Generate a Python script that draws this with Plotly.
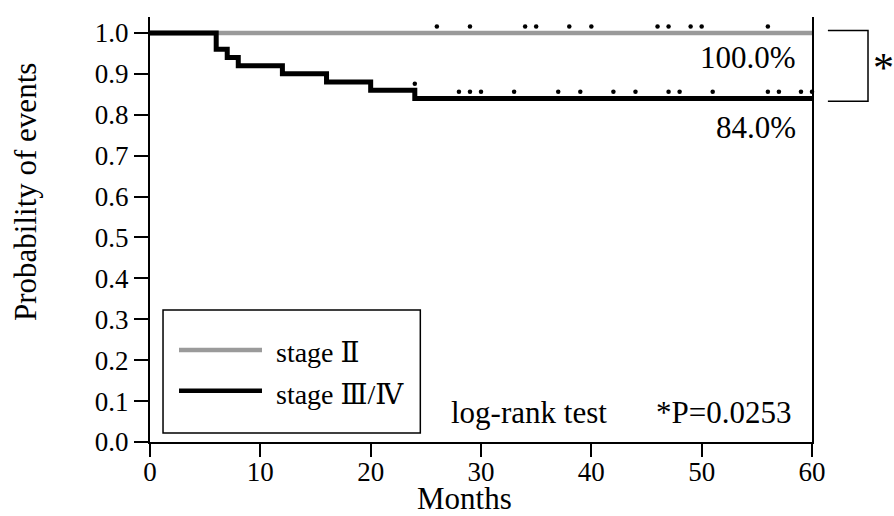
import plotly.graph_objects as go

# ---- data ----
months_stage34 = [0, 6, 7, 8, 12, 16, 20, 24, 60]
surv_stage34 = [1.00, 0.96, 0.94, 0.92, 0.90, 0.88, 0.86, 0.84, 0.84]
months_stage2 = [0, 60]
surv_stage2 = [1.00, 1.00]

censor_stage2 = [26, 29, 34, 35, 38, 40, 46, 47, 49, 50, 56]
censor_stage34 = [24, 28, 29, 30, 33, 37, 39, 42, 44, 47, 48, 51, 56, 57, 59, 60]

x_ticks = [0, 10, 20, 30, 40, 50, 60]
y_ticks = [0.0, 0.1, 0.2, 0.3, 0.4, 0.5, 0.6, 0.7, 0.8, 0.9, 1.0]

FONT = "Liberation Serif, Times New Roman, DejaVu Serif, serif"
GRAY = "#9a9a9a"


def surv_at(t, xs, ys):
    val = ys[0]
    for xx, yy in zip(xs, ys):
        if xx < t:
            val = yy
    return val


dot_off = 0.016
c2_y = [surv_at(t, months_stage2, surv_stage2) + dot_off for t in censor_stage2]
c34_y = [surv_at(t, months_stage34, surv_stage34) + dot_off for t in censor_stage34]

fig = go.Figure()
fig.add_trace(go.Scatter(x=months_stage2, y=surv_stage2, mode="lines",
                         line=dict(color=GRAY, width=4.5, shape="hv"),
                         showlegend=False, cliponaxis=False))
fig.add_trace(go.Scatter(x=months_stage34, y=surv_stage34, mode="lines",
                         line=dict(color="black", width=5, shape="hv"),
                         showlegend=False, cliponaxis=False))
fig.add_trace(go.Scatter(x=censor_stage2, y=c2_y, mode="markers",
                         marker=dict(color="black", size=4.5, symbol="circle"),
                         showlegend=False, cliponaxis=False))
fig.add_trace(go.Scatter(x=censor_stage34, y=c34_y, mode="markers",
                         marker=dict(color="black", size=4.5, symbol="circle"),
                         showlegend=False, cliponaxis=False))

shapes = []
# legend box
shapes.append(dict(type="rect", xref="x", yref="y", x0=1.18, x1=24.5, y0=0.022, y1=0.323,
                   line=dict(color="black", width=1.5), fillcolor="white", layer="below"))
shapes.append(dict(type="line", xref="x", yref="y", x0=2.63, x1=10.15, y0=0.225, y1=0.225,
                   line=dict(color=GRAY, width=4.5)))
shapes.append(dict(type="line", xref="x", yref="y", x0=2.63, x1=10.15, y0=0.125, y1=0.125,
                   line=dict(color="black", width=4.5)))
# significance bracket
shapes.append(dict(type="path", xref="paper", yref="paper",
                   path="M 1.024,0.968 L 1.0846,0.968 L 1.0846,0.802 L 1.024,0.802",
                   line=dict(color="black", width=1.5)))

annotations = [
    dict(x=58.75, y=0.939, xref="x", yref="y", text="100.0%", showarrow=False,
         xanchor="right", yanchor="middle", font=dict(family=FONT, size=31, color="black")),
    dict(x=58.75, y=0.770, xref="x", yref="y", text="84.0%", showarrow=False,
         xanchor="right", yanchor="middle", font=dict(family=FONT, size=31, color="black")),
    dict(x=11.2, y=0.218, xref="x", yref="y", text="stage \u2161", showarrow=False,
         xanchor="left", yanchor="middle", font=dict(family=FONT, size=28, color="black")),
    dict(x=11.2, y=0.115, xref="x", yref="y", text="stage \u2162/\u2163", showarrow=False,
         xanchor="left", yanchor="middle", font=dict(family=FONT, size=28, color="black")),
    dict(x=27.1, y=0.071, xref="x", yref="y", text="log-rank test", showarrow=False,
         xanchor="left", yanchor="middle", font=dict(family=FONT, size=31, color="black")),
    dict(x=58.3, y=0.071, xref="x", yref="y", text="*P=0.0253", showarrow=False,
         xanchor="right", yanchor="middle", font=dict(family=FONT, size=31, color="black")),
    dict(x=1.108, y=0.88, xref="paper", yref="paper", text="*", showarrow=False,
         xanchor="center", yanchor="middle", font=dict(family=FONT, size=42, color="black")),
    dict(x=-0.189, y=0.588, xref="paper", yref="paper", text="Probability of events",
         showarrow=False, textangle=-90, xanchor="center", yanchor="middle",
         font=dict(family=FONT, size=31, color="black")),
    dict(x=28.5, y=-0.134, xref="x", yref="paper", text="Months", showarrow=False,
         xanchor="center", yanchor="middle", font=dict(family=FONT, size=31, color="black")),
]

fig.update_layout(
    width=894, height=516,
    margin=dict(l=150, r=82, t=17, b=74, autoexpand=False),
    plot_bgcolor="white", paper_bgcolor="white",
    font=dict(family=FONT, color="black"),
    shapes=shapes, annotations=annotations,
    xaxis=dict(range=[0, 60], tickvals=x_ticks, ticktext=[str(v) for v in x_ticks],
               ticks="outside", ticklen=13, tickwidth=2, tickcolor="black",
               showline=True, linecolor="black", linewidth=2, mirror=False,
               showgrid=False, zeroline=False, tickfont=dict(family=FONT, size=27),
               automargin=False, ticklabelstandoff=-8),
    yaxis=dict(range=[0, 1.039], tickvals=y_ticks, ticktext=[f"{v:.1f}" for v in y_ticks],
               ticks="outside", ticklen=14, tickwidth=2, tickcolor="black",
               showline=True, linecolor="black", linewidth=2, mirror=True,
               showgrid=False, zeroline=False, tickfont=dict(family=FONT, size=27),
               automargin=False, ticklabelstandoff=0),
)

fig.write_html("out.html", config={"displayModeBar": False},
               post_script="document.body.style.margin='0';document.body.style.overflow='hidden';")
